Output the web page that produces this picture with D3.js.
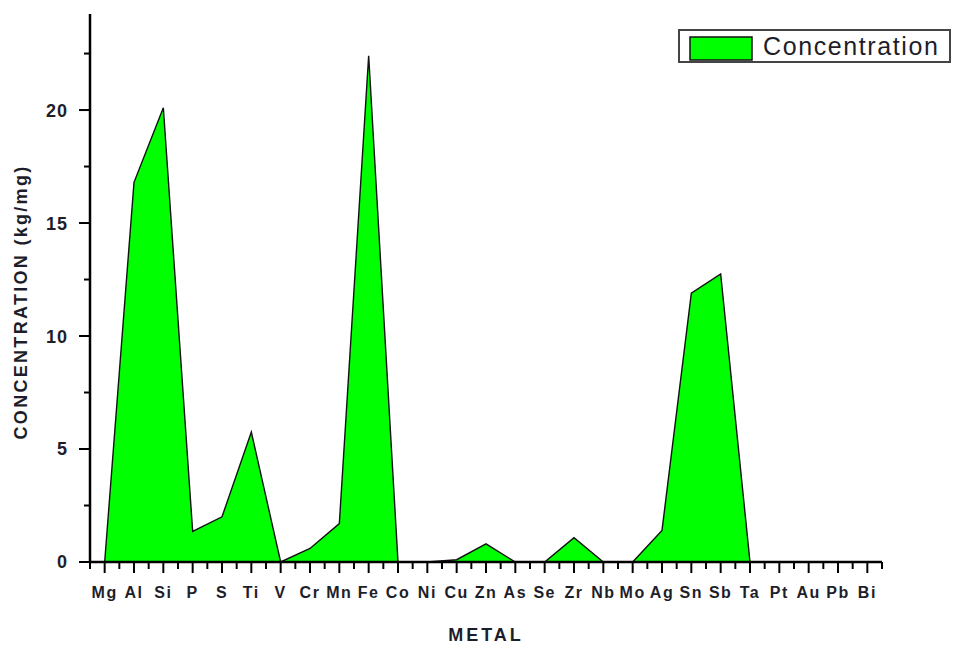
<!DOCTYPE html>
<html>
<head>
<meta charset="utf-8">
<script src="https://cdn.jsdelivr.net/npm/d3@7"></script>
<style>
  body { margin: 0; background: #fff; }
  text { font-family: "Liberation Sans", Arial, sans-serif; }
</style>
</head>
<body>
<svg id="chart" width="953" height="645"></svg>
<script>
// metals along the x axis
const metals = ["Mg", "Al", "Si", "P", "S", "Ti", "V", "Cr", "Mn", "Fe", "Co", "Ni", "Cu", "Zn",
  "As", "Se", "Zr", "Nb", "Mo", "Ag", "Sn", "Sb", "Ta", "Pt", "Au", "Pb", "Bi"];
// concentration values
const concentration = [0, 16.8, 20.1, 1.35, 2.0, 5.75, 0, 0.6, 1.7, 22.4, 0, 0, 0.1, 0.8,
  0, 0, 1.08, 0, 0, 1.4, 11.9, 12.75, 0, 0, 0, 0, 0];
const yTicks = [0, 5, 10, 15, 20];
const yMinorTicks = [2.5, 7.5, 12.5, 17.5, 22.5];

const data = metals.map((m, i) => ({ metal: m, i: i, value: concentration[i] }));

const svg = d3.select('#chart');
const plotLeft = 90, plotRight = 882, plotTop = 14, plotBottom = 562;
const textColor = '#1e1e2a';

let x = d3.scaleLinear().domain([-0.5, metals.length - 0.5]).range([plotLeft, plotRight]);
let y = d3.scaleLinear().domain([0, 24.25]).range([plotBottom, plotTop]);

//area
let area = d3.area()
  .x(d => x(d.i))
  .y0(y(0))
  .y1(d => y(d.value));

svg.append('path')
  .datum(data)
  .attr('d', area)
  .style('fill', '#00ff00')
  .style('stroke', '#111')
  .style('stroke-width', 1.4)
  .style('stroke-linejoin', 'miter');

//y axis
let yAxis = svg.append('g').attr('transform', 'translate(' + plotLeft + ',0)');
yAxis.append('line')
  .attr('x1', 0).attr('x2', 0)
  .attr('y1', plotTop).attr('y2', plotBottom + 1)
  .style('stroke', '#000').style('stroke-width', 2.5);
yAxis.selectAll('line.major')
  .data(yTicks)
  .join('line')
  .classed('major', true)
  .attr('x1', -11).attr('x2', 0)
  .attr('y1', d => y(d)).attr('y2', d => y(d))
  .style('stroke', '#000').style('stroke-width', 2);
yAxis.selectAll('line.minor')
  .data(yMinorTicks)
  .join('line')
  .classed('minor', true)
  .attr('x1', -6).attr('x2', 0)
  .attr('y1', d => y(d)).attr('y2', d => y(d))
  .style('stroke', '#000').style('stroke-width', 2);
yAxis.selectAll('text')
  .data(yTicks)
  .join('text')
  .attr('x', -22)
  .attr('y', d => y(d))
  .attr('dy', '0.36em')
  .attr('text-anchor', 'end')
  .style('font-size', '18px')
  .style('font-weight', 'bold')
  .style('letter-spacing', '1px')
  .style('fill', textColor)
  .text(d => d);

//x axis
let xAxis = svg.append('g').attr('transform', 'translate(0,' + plotBottom + ')');
xAxis.append('line')
  .attr('x1', plotLeft - 1).attr('x2', plotRight)
  .attr('y1', 0).attr('y2', 0)
  .style('stroke', '#000').style('stroke-width', 2.5);
xAxis.selectAll('line.major')
  .data(data)
  .join('line')
  .classed('major', true)
  .attr('x1', d => x(d.i)).attr('x2', d => x(d.i))
  .attr('y1', 0).attr('y2', 11)
  .style('stroke', '#000').style('stroke-width', 2);
xAxis.selectAll('line.minor')
  .data(d3.range(metals.length + 1))
  .join('line')
  .classed('minor', true)
  .attr('x1', d => x(d - 0.5)).attr('x2', d => x(d - 0.5))
  .attr('y1', 0).attr('y2', 7)
  .style('stroke', '#000').style('stroke-width', 2);
xAxis.selectAll('text')
  .data(data)
  .join('text')
  .attr('x', d => x(d.i))
  .attr('y', 36)
  .attr('text-anchor', 'middle')
  .style('font-size', '16px')
  .style('font-weight', 'bold')
  .style('letter-spacing', '1.5px')
  .style('fill', textColor)
  .text(d => d.metal);

//axis titles
svg.append('text')
  .attr('transform', 'translate(27,302) rotate(-90)')
  .attr('text-anchor', 'middle')
  .style('font-size', '18px')
  .style('font-weight', 'bold')
  .style('letter-spacing', '2.3px')
  .style('fill', textColor)
  .text('CONCENTRATION (kg/mg)');

svg.append('text')
  .attr('x', 486)
  .attr('y', 641)
  .attr('text-anchor', 'middle')
  .style('font-size', '18px')
  .style('font-weight', 'bold')
  .style('letter-spacing', '3px')
  .style('fill', textColor)
  .text('METAL');

//legend
let legend = svg.append('g').attr('transform', 'translate(679,30)');
legend.append('rect')
  .attr('width', 271)
  .attr('height', 32)
  .style('fill', '#fff')
  .style('stroke', '#444')
  .style('stroke-width', 2);
legend.append('rect')
  .attr('x', 11).attr('y', 7)
  .attr('width', 62).attr('height', 23)
  .style('fill', '#00ff00')
  .style('stroke', '#111')
  .style('stroke-width', 1.5);
legend.append('text')
  .attr('x', 84)
  .attr('y', 25)
  .style('font-size', '25px')
  .style('letter-spacing', '1.6px')
  .style('fill', textColor)
  .text('Concentration');
</script>
</body>
</html>
